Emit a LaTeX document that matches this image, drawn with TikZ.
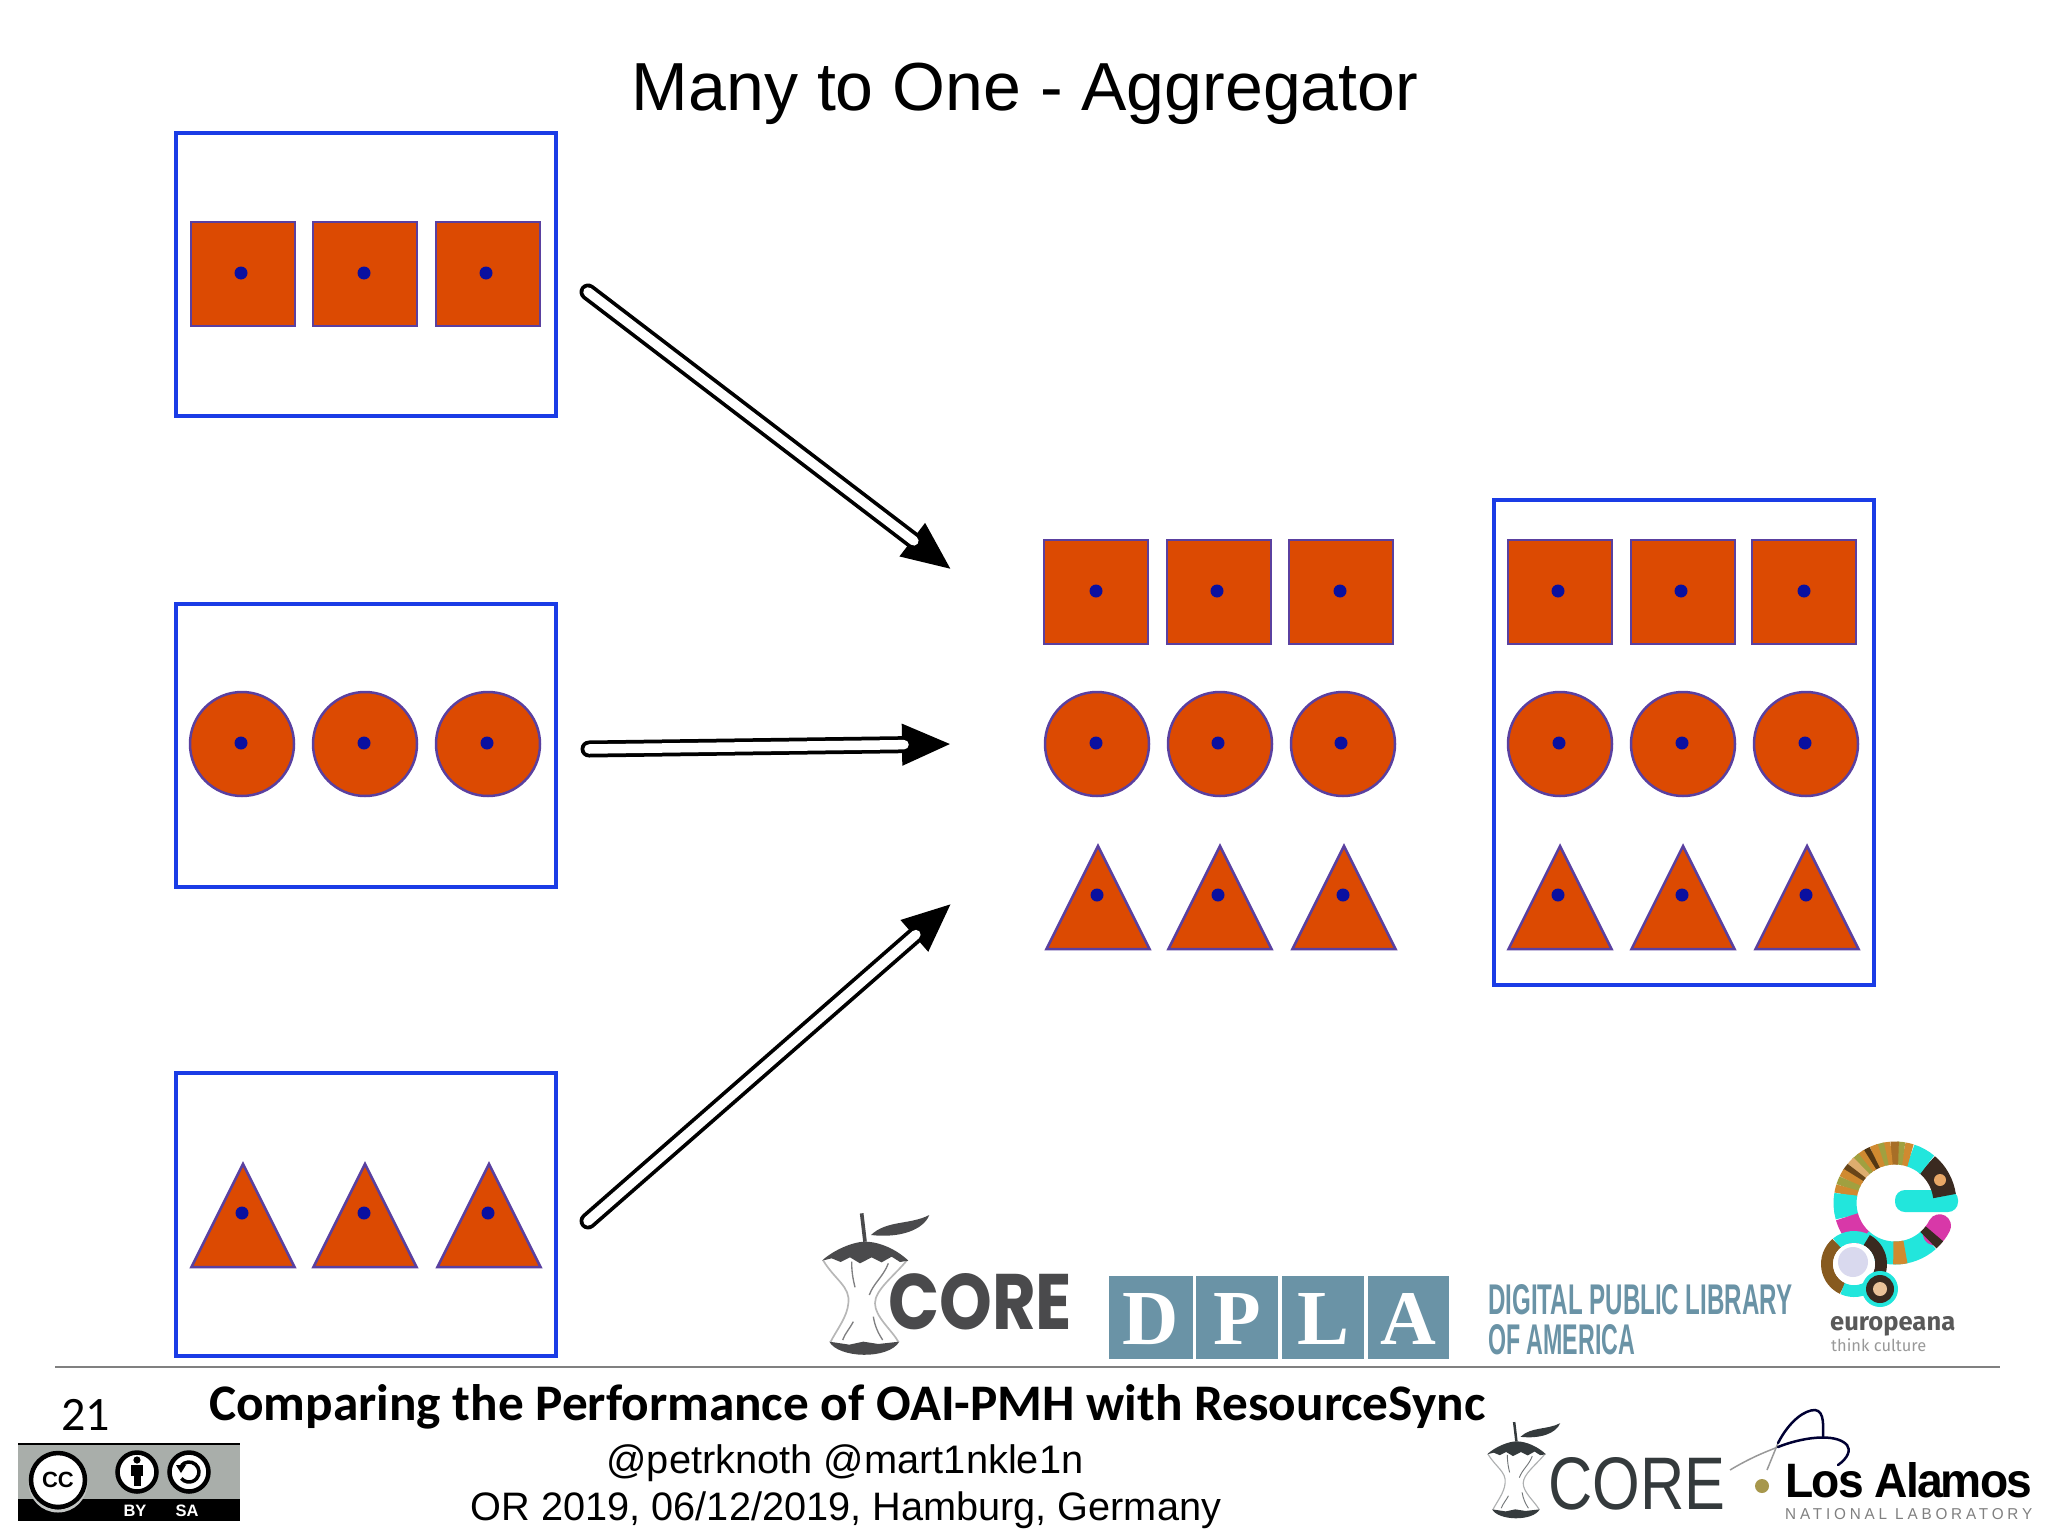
\documentclass[tikz,border=0pt]{standalone}
\usepackage{fontspec}
\usetikzlibrary{arrows.meta,calc,shapes.geometric}
\setmainfont{Liberation Sans}
\newfontfamily\carlito{Carlito}
\newfontfamily\serifl{Liberation Serif}
\newfontfamily\popp{Poppins}
\newfontfamily\spaced[LetterSpace=25]{Liberation Sans}
\newfontfamily\tightf[LetterSpace=-4]{Liberation Sans}
\newfontfamily\fira{Fira Sans}
\newcommand{\fsz}[1]{\fontsize{#1}{#1}\selectfont}
\definecolor{shapefill}{HTML}{DC4A02}
\definecolor{shapeline}{HTML}{5A40A0}
\definecolor{dotblue}{HTML}{0A10A0}
\definecolor{boxblue}{HTML}{1A3CE6}
\definecolor{dplablue}{HTML}{6A93A6}
\definecolor{ecyan}{HTML}{22E6DC}
\definecolor{emag}{HTML}{D838A8}
\definecolor{eorange}{HTML}{D08A30}
\definecolor{egreen}{HTML}{A0A040}
\definecolor{edark}{HTML}{3A2A20}
\definecolor{ccgrey}{HTML}{A9AEAA}
\definecolor{coregrey}{HTML}{4A4A4C}
\definecolor{coredark}{HTML}{343A3C}
\tikzset{
  x=1pt,y=-1pt,
  holder/.style={draw=boxblue,line width=4pt,fill=white,inner sep=0pt,minimum width=380pt,minimum height=283pt},
  sqshape/.style={draw=shapeline,line width=2.5pt,fill=shapefill,inner sep=0pt,minimum size=104pt},
  cishape/.style={circle,draw=shapeline,line width=2.5pt,fill=shapefill,inner sep=0pt,minimum size=104pt},
  trishape/.style={draw=shapeline,line width=2.5pt,fill=shapefill,line join=miter},
  blob/.style={circle,fill=dotblue,inner sep=0pt,minimum size=13pt},
  shaftouter/.style={black,line width=17pt,line cap=round,-{Triangle[length=50pt,width=38pt]}},
  shaftinner/.style={white,line width=9.5pt,line cap=round,shorten >=48pt},
  txt/.style={inner sep=0pt,anchor=base},
  txtw/.style={inner sep=0pt,anchor=base west},
  eseg/.style={line width=23pt,line cap=butt},
}
\newcommand{\mysq}[3]{\node[sqshape] (s#1) at (#2,#3) {};}
\newcommand{\mycirc}[3]{\node[cishape] (c#1) at (#2,#3) {};}
\newcommand{\mytri}[4]{\draw[trishape] (#2-51.5,#3) -- (#2,#3-103) -- (#2+51.5,#3) -- cycle;\node[blob] (t#1) at (#4,#3-54) {};}
\newcommand{\mydot}[3]{\node[blob] (d#1) at (#2,#3) {};}
\newcommand{\ringseg}[3]{\draw[eseg,#3] ([shift={(#1:50pt)}]1895,1203) arc[start angle=#1,end angle=#2,radius=50pt];}
\newcommand{\smallseg}[3]{\draw[line width=12pt,#3] ([shift={(#1:27pt)}]1854,1264) arc[start angle=#1,end angle=#2,radius=27pt];}
\newcommand{\applecore}[4]{%
\begin{scope}[shift={(#1,#2)},x=#3pt,y=-#3pt]
  \draw[#4,line width=#3*11pt] (155,40) -- (165,125);
  \fill[#4] (183,105) .. controls (230,60) and (300,75) .. (358,45) .. controls (340,90) and (270,115) .. (183,105) -- cycle;
  \draw[#4!40,line width=#3*5pt] (40,182) .. controls (75,240) and (122,260) .. (115,310) .. controls (112,350) and (80,390) .. (62,425);
  \draw[#4!40,line width=#3*5pt] (290,182) .. controls (250,230) and (195,270) .. (195,310) .. controls (195,350) and (245,390) .. (265,425);
  \draw[#4!70,line width=#3*4pt] (125,185) .. controls (125,220) and (130,240) .. (135,262);
  \draw[#4!70,line width=#3*4pt] (235,190) .. controls (220,230) and (190,250) .. (178,285);
  \draw[#4!70,line width=#3*4pt] (130,365) .. controls (120,385) and (105,400) .. (98,420);
  \draw[#4!70,line width=#3*4pt] (190,350) .. controls (195,380) and (205,400) .. (218,420);
  \fill[#4] (36,182) .. controls (70,150) and (130,125) .. (165,125) .. controls (210,125) and (262,150) .. (295,182)
    -- (270,186) -- (245,170) -- (215,187) -- (185,172) -- (150,190) -- (120,172) -- (92,186) -- (65,175) -- cycle;
  \fill[#4] (58,425) .. controls (85,475) and (235,480) .. (268,425) -- (205,432) -- (160,425) -- (118,434) -- cycle;
\end{scope}}
\begin{document}
\begin{tikzpicture}
\useasboundingbox[fill=white] (0,0) rectangle (2048,1536);

% title
\node[txt,font=\fsz{68}] (title) at (1025,111) {Many to One - Aggregator};

% source holders
\node[holder] (src1) at (365.5,274.5) {};
\node[holder] (src2) at (365.5,745) {};
\node[holder] (src3) at (365.5,1214) {};
\node[holder,minimum width=380pt,minimum height=485pt] (agg) at (1684,742.5) {};

% row in first holder
\mysq{a}{243}{274}\mysq{b}{365}{274}\mysq{c}{488}{274}
\mydot{a}{241}{273}\mydot{b}{364}{273}\mydot{c}{486}{273}
% second holder
\mycirc{a}{242}{744}\mycirc{b}{365}{744}\mycirc{c}{488}{744}
\mydot{d}{241}{743}\mydot{e}{364}{743}\mydot{f}{487}{743}
% third holder
\mytri{a}{243}{1267}{242}\mytri{b}{365}{1267}{364}\mytri{c}{489}{1267}{488}

% middle group
\mysq{d}{1096}{592}\mysq{e}{1219}{592}\mysq{f}{1341}{592}
\mydot{g}{1096}{591}\mydot{h}{1217}{591}\mydot{i}{1340}{591}
\mycirc{d}{1097}{744}\mycirc{e}{1220}{744}\mycirc{f}{1343}{744}
\mydot{j}{1096}{743}\mydot{k}{1218}{743}\mydot{l}{1341}{743}
\mytri{d}{1098}{949}{1097}\mytri{e}{1220}{949}{1218}\mytri{f}{1344}{949}{1343}

% right group
\mysq{g}{1560}{592}\mysq{h}{1683}{592}\mysq{i}{1804}{592}
\mydot{m}{1558}{591}\mydot{n}{1681}{591}\mydot{o}{1804}{591}
\mycirc{g}{1560}{744}\mycirc{h}{1683}{744}\mycirc{i}{1806}{744}
\mydot{p}{1559}{743}\mydot{q}{1682}{743}\mydot{r}{1805}{743}
\mytri{g}{1560}{949}{1558}\mytri{h}{1683}{949}{1682}\mytri{i}{1807}{949}{1806}

% arrows
\coordinate (a1s) at (588,292); \coordinate (a1e) at (952,570);
\coordinate (a2s) at (589,749); \coordinate (a2e) at (952,744);
\coordinate (a3s) at (588,1221); \coordinate (a3e) at (952,903);
\foreach \s/\e in {a1s/a1e,a2s/a2e,a3s/a3e}{
  \draw[shaftouter] (\s) -- (\e);
  \draw[shaftinner] (\s) -- (\e);
}

% CORE logo (upper)
\applecore{810}{1200}{0.3333}{coregrey}
\node[txtw] (coreA) at (888,1329) {\color{coregrey}\resizebox{184pt}{56pt}{\popp\bfseries CORE}};

% DPLA
\foreach \n/\xa/\xb/\l in {1/1109/1192.5/D,2/1196/1278/P,3/1282/1364/L,4/1368/1449/A}{
  \fill[dplablue] (\xa,1276) rectangle (\xb,1359);
  \node[inner sep=0pt,anchor=base,text=white] (dpla\n) at ({(\xa+\xb)/2},1344) {\resizebox{!}{51pt}{\serifl\bfseries\l}};
}
\node[txtw] (dplaA) at (1488,1314) {\color{dplablue}\resizebox{304pt}{30pt}{\bfseries DIGITAL PUBLIC LIBRARY}};
\node[txtw] (dplaB) at (1488,1354) {\color{dplablue}\resizebox{147pt}{30pt}{\bfseries OF AMERICA}};

% europeana
\fill[ecyan,rounded corners=10pt] (1895,1190) rectangle (1958,1212);
\ringseg{8}{50}{edark}
\fill[black!15!orange!60!white] (1940,1180) circle (6pt);
\ringseg{50}{72}{ecyan}
\foreach \a/\c in {72/eorange,80/egreen,86/eorange!80!black,94/eorange,100/egreen,106/eorange,114/black!60!eorange,120/eorange,126/egreen,132/eorange!70!white,140/black!50!eorange,146/eorange,154/egreen,162/eorange}{
  \pgfmathsetmacro{\b}{\a+8.5}
  \ringseg{\a}{\b}{\c}
}
\ringseg{170}{196}{ecyan}
\ringseg{196}{228}{emag}
\ringseg{228}{312}{ecyan}
\ringseg{268}{282}{eorange}
\draw[line width=23pt,line cap=round,emag] ([shift={(322:50pt)}]1895,1203) arc[start angle=322,end angle=333,radius=50pt];
\ringseg{312}{322}{edark}
\smallseg{62}{130}{ecyan}
\smallseg{130}{245}{black!35!eorange}
\smallseg{245}{310}{ecyan}
\smallseg{310}{422}{edark}
\fill[white] (1854,1264) circle (21pt);
\fill[black!45!blue!15!white] (1853,1262) circle (15pt);
\fill[ecyan] (1880,1289) circle (18pt);
\fill[edark] (1880,1289) circle (14pt);
\fill[black!20!orange!40!white] (1880,1289) circle (7pt);
\node[txtw] (euA) at (1830,1330) {\color{black!65}\resizebox{125pt}{!}{\fira\bfseries europeana}};
\node[txtw] (euB) at (1831,1351) {\color{black!40}\resizebox{95pt}{!}{\fira think culture}};

% footer
\draw[black!50,line width=2pt] (55,1367) -- (2000,1367);
\node[txtw,font=\carlito\fsz{48}] (pnum) at (61,1430) {21};
\node[txtw,font=\carlito\bfseries\fsz{51.3}] (ftitle) at (209,1420) {Comparing the Performance of OAI-PMH with ResourceSync};
\node[txt,font=\fsz{39.8}] (handles) at (845,1473) {@petrknoth @mart1nkle1n};
\node[txt,font=\fsz{39.7}] (venue) at (846,1520) {OR 2019, 06/12/2019, Hamburg, Germany};

% CC badge
\fill[ccgrey] (18,1443) rectangle (240,1521);
\fill[black] (18,1443) rectangle (240,1445);
\fill[black] (18,1499) rectangle (240,1521);
\draw[ccgrey!70!white,line width=3pt] (58,1483) circle (28pt);
\node[circle,draw=black,line width=4.5pt,fill=white,minimum size=54pt,inner sep=0pt,font=\bfseries\fsz{22}] (cc) at (58,1480) {CC};
\node[circle,draw=black,line width=4.5pt,fill=white,minimum size=39pt,inner sep=0pt] (by) at (137,1472) {};
\node[circle,draw=black,line width=4.5pt,fill=white,minimum size=39pt,inner sep=0pt] (sa) at (189,1472) {};
\fill[black] (137,1460) circle (3.6pt);
\fill[black] (131,1465) rectangle (143,1476);
\fill[black] (133.5,1476) rectangle (140.5,1486);
\draw[black,line width=3.5pt] ([shift={(140:10pt)}]189,1472) arc[start angle=140,end angle=-140,radius=10pt];
\fill[black] (176,1465) -- (186,1465) -- (181,1473) -- cycle;
\node[txt,text=white,font=\bfseries\fsz{16.5}] (byt) at (135,1516) {BY};
\node[txt,text=white,font=\bfseries\fsz{16.5}] (sat) at (187,1516) {SA};

% CORE logo (lower)
\applecore{1479}{1413}{0.2267}{coredark}
\node[txtw] (coreB) at (1548,1509) {\color{coredark}\resizebox{177pt}{52pt}{CORE}};

% Los Alamos
\draw[black!40,line width=1.5pt] (1730,1470) .. controls (1750,1458) and (1765,1452) .. (1778,1447);
\draw[black!40,line width=1.5pt] (1767,1470) -- (1778,1443);
\draw[black!80!blue,line width=2.5pt,line cap=round] (1778,1447) .. controls (1800,1438) and (1835,1432) .. (1847,1445) .. controls (1851,1450) and (1848,1458) .. (1838,1465);
\draw[black!80!blue,line width=2.5pt,line cap=round] (1778,1443) .. controls (1790,1420) and (1805,1410) .. (1815,1410) .. controls (1825,1411) and (1823,1428) .. (1823,1437);
\fill[black!45!yellow!70!brown] (1762,1486) circle (7pt);
\node[txtw] (la) at (1785,1497) {\resizebox{247pt}{35pt}{\tightf\bfseries Los Alamos}};
\node[txtw] (nl) at (1785,1519) {\color{black!50}\resizebox{247pt}{11pt}{\spaced NATIONAL LABORATORY}};
\end{tikzpicture}
\end{document}
